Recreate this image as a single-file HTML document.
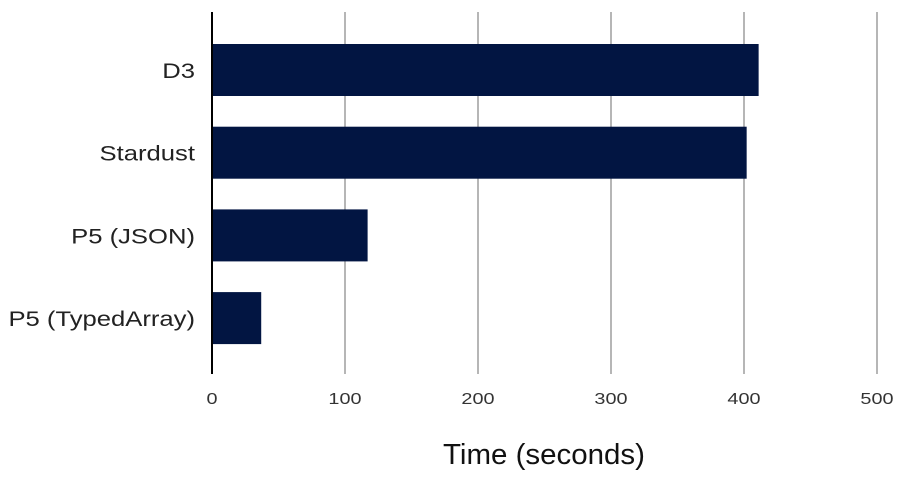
<!DOCTYPE html>
<html><head><meta charset="utf-8"><style>
html,body{margin:0;padding:0;background:#fff;}
svg{display:block;font-family:"Liberation Sans",sans-serif;}
</style></head><body>
<svg id="chart" width="918" height="480"></svg>
<script>
const categories=["D3","Stardust","P5 (JSON)","P5 (TypedArray)"];
const values=[411,402,117,37];
const ticks=[0,100,200,300,400,500];
const svg=document.getElementById('chart');
const NS='http://www.w3.org/2000/svg';
const x0=212,x1=877,plotTop=12,plotBottom=374;
const xs=v=>x0+(v/500)*(x1-x0);
const step=82.7,firstC=70,barH=52;
const yc=i=>firstC+i*step;
function mk(tag,attrs){const e=document.createElementNS(NS,tag);for(const k in attrs)e.setAttribute(k,attrs[k]);svg.appendChild(e);return e;}
function stretch(el,f){const w=el.getComputedTextLength();el.setAttribute('textLength',w*f);el.setAttribute('lengthAdjust','spacingAndGlyphs');}
ticks.forEach(t=>{
  if(t>0){const g=mk('line',{x1:xs(t),x2:xs(t),y1:plotTop,y2:plotBottom,stroke:'#9e9e9e','stroke-width':1.5});
  
  }
  const l=mk('text',{x:xs(t),y:404,'text-anchor':'middle','font-size':16,fill:'#333'});
  l.textContent=t;
  
  
  stretch(l,1.24);
});
values.forEach((v,i)=>{
  const r=mk('rect',{x:x0,y:yc(i)-barH/2,width:xs(v)-x0,height:barH,fill:'#021542'});
  
  
  const l=mk('text',{x:195,y:yc(i)+8,'text-anchor':'end','font-size':21,fill:'#222'});
  l.textContent=categories[i];
  
  
  stretch(l,1.22);
});
const ax=mk('line',{x1:x0,x2:x0,y1:plotTop,y2:plotBottom,stroke:'#000','stroke-width':2});


const tt=mk('text',{x:544,y:464,'text-anchor':'middle','font-size':29,fill:'#111'});
tt.textContent='Time (seconds)';


tt.setAttribute('textLength',202);
tt.setAttribute('lengthAdjust','spacingAndGlyphs');
</script>
</body></html>
